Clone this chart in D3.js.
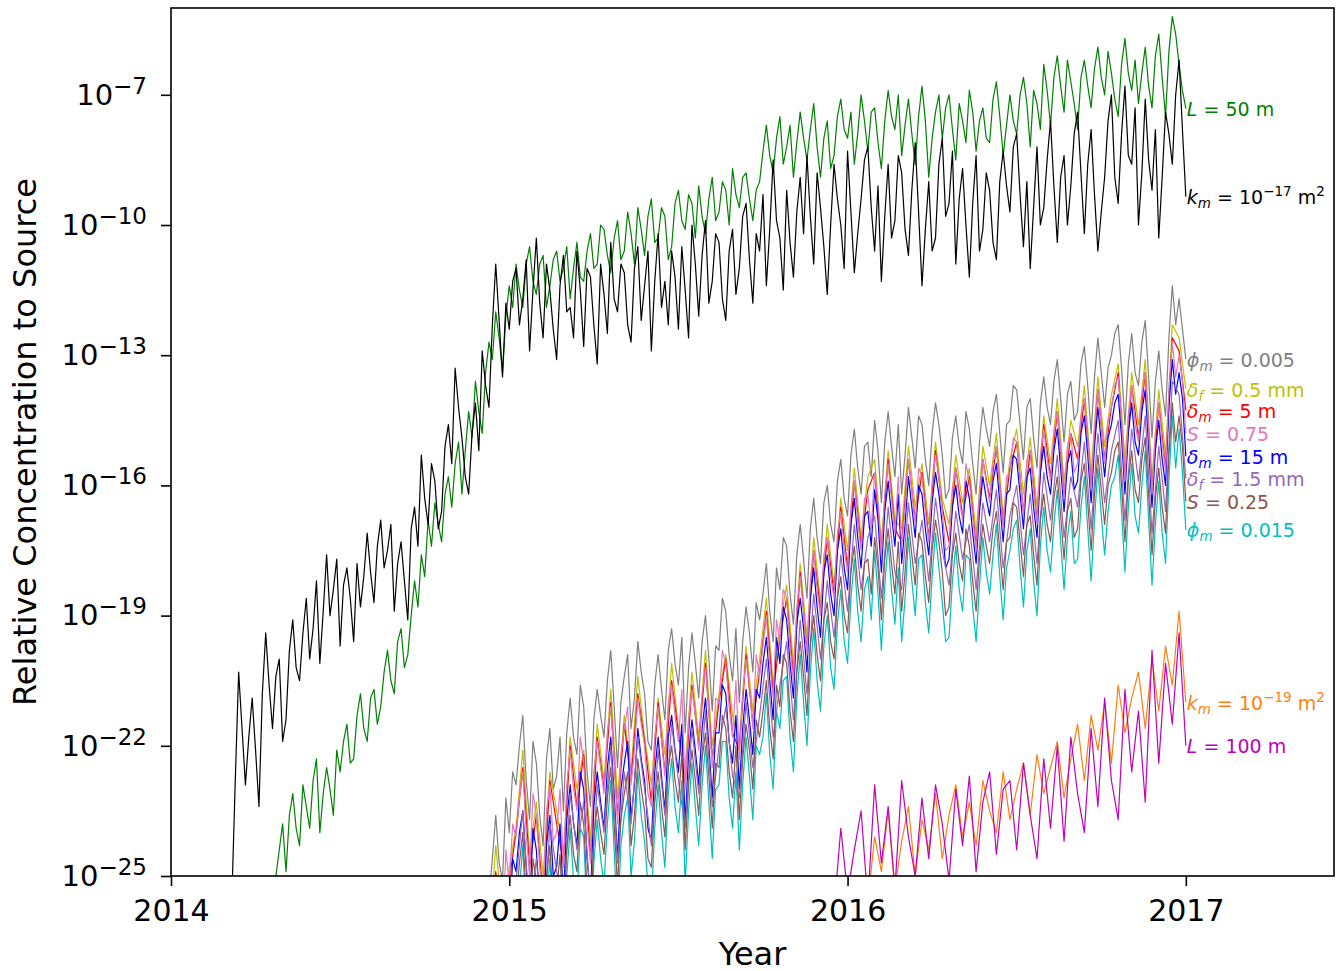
<!DOCTYPE html>
<meta charset="utf-8">
<script src="https://d3js.org/d3.v7.min.js"></script>
<style>
  body { margin: 0; background: #fff; }
  svg text { font-family: "DejaVu Sans", sans-serif; fill: #000; }
</style>
<div id="chart"></div>
<script>
// values are log10 of the relative concentration
var xTickVals = [2014, 2015, 2016, 2017];
var yTickExps = [-25, -22, -19, -16, -13, -10, -7];

// sampled every 0.01 yr
var greenL50Start = 2014.30;
var greenL50 = [-25.8, -25.0, -24.4, -23.8, -24.9, -23.6, -23.1, -23.9, -24.3, -22.9,
  -23.4, -23.9, -22.8, -22.3, -24.0, -23.1, -22.5, -23.0, -23.6, -22.1,
  -22.6, -21.9, -21.5, -22.4, -22.3, -21.3, -20.8, -21.6, -21.9, -20.9,
  -20.7, -21.5, -21.1, -20.3, -19.8, -20.5, -20.8, -19.6, -19.3, -20.2,
  -19.9, -19.0, -18.2, -18.8, -17.6, -18.1, -16.8, -17.4, -16.4, -16.9,
  -17.3, -16.2, -15.8, -16.5, -15.5, -15.0, -16.2, -15.2, -14.3, -14.9,
  -13.6, -14.3, -14.8, -13.4, -12.7, -13.1, -12.0, -12.6, -13.4, -12.1,
  -11.4, -11.9, -10.9, -11.5, -11.9, -10.9, -10.5, -11.3, -11.6, -10.9,
  -10.7, -11.9, -11.4, -10.8, -10.6, -11.3, -11.0, -10.5, -11.7, -11.0,
  -10.4, -11.2, -11.3, -10.6, -10.2, -11.0, -10.9, -10.0, -10.1, -10.7,
  -11.1, -10.3, -9.9, -10.8, -10.6, -9.7, -10.2, -10.9, -9.6, -10.1,
  -10.7, -9.8, -9.4, -10.4, -10.3, -9.6, -9.8, -10.8, -10.5, -9.5,
  -9.2, -9.9, -10.1, -9.3, -9.5, -10.3, -9.1, -9.8, -10.2, -9.4,
  -8.9, -9.9, -9.7, -9.0, -9.2, -10.0, -8.7, -9.3, -9.6, -8.9,
  -8.8, -9.4, -9.9, -9.2, -9.0, -8.3, -7.7, -8.4, -8.8, -8.0,
  -7.5, -8.6, -8.2, -7.7, -8.9, -8.1, -7.4, -8.0, -8.5, -7.8,
  -7.2, -8.2, -8.9, -8.0, -7.6, -8.7, -8.4, -7.5, -7.1, -7.8,
  -8.0, -7.4, -8.6, -7.9, -7.0, -7.6, -8.3, -7.4, -7.3, -8.1,
  -8.7, -7.6, -6.9, -7.5, -7.8, -7.0, -8.4, -7.7, -7.1, -7.9,
  -8.6, -7.5, -6.8, -7.6, -8.9, -8.0, -7.4, -7.0, -8.0, -7.3,
  -7.0, -7.8, -8.5, -7.2, -7.6, -8.1, -6.9, -7.4, -8.3, -7.6,
  -7.3, -8.0, -8.1, -7.1, -6.7, -7.5, -8.4, -7.7, -7.0, -7.6,
  -7.9, -7.0, -6.6, -7.2, -8.2, -6.9, -7.2, -7.8, -6.3, -6.9,
  -7.7, -6.6, -6.1, -6.8, -7.4, -6.2, -6.7, -7.2, -7.8, -6.6,
  -6.2, -6.8, -7.3, -6.4, -5.9, -6.6, -7.0, -6.0, -6.5, -7.1,
  -7.5, -6.3, -5.7, -6.5, -6.9, -6.2, -7.2, -6.5, -5.9, -6.8,
  -7.3, -6.1, -5.6, -6.6, -7.5, -6.0, -5.2, -5.6, -6.3, -6.9,
  -7.32];

var blackKm17Start = 2014.18;
var blackKm17 = [-25.5, -22.8, -20.3, -21.6, -22.9, -21.8, -20.9, -22.1, -23.4, -20.8,
  -19.4, -20.6, -21.6, -20.4, -20.0, -21.9, -21.4, -19.8, -19.1, -20.2,
  -20.5, -19.4, -18.6, -20.0, -19.3, -18.2, -20.1, -18.9, -17.6, -19.0,
  -18.4, -17.7, -19.7, -18.3, -17.9, -18.6, -19.6, -17.8, -18.8, -18.1,
  -17.1, -18.0, -18.7, -17.4, -16.8, -17.9, -17.5, -16.9, -18.9, -17.8,
  -17.3, -18.2, -19.1, -17.0, -16.5, -17.4, -15.3, -16.3, -16.9, -15.5,
  -15.9, -17.0, -16.6, -15.1, -14.6, -15.5, -13.3, -14.2, -14.9, -15.8,
  -16.2, -14.8, -14.1, -15.2, -12.9, -13.7, -14.2, -12.3, -10.9, -12.2,
  -13.5, -11.8, -12.4, -11.3, -11.0, -12.3, -11.7, -10.8, -12.9, -11.5,
  -10.3, -11.8, -12.6, -10.9, -11.5, -12.4, -13.1, -11.4, -10.7, -12.0,
  -11.9, -12.6, -10.6, -11.5, -12.8, -11.0, -11.2, -12.3, -13.2, -10.9,
  -11.6, -12.5, -10.4, -11.7, -12.0, -10.9, -11.1, -12.3, -12.7, -11.0,
  -10.5, -12.2, -11.4, -10.6, -12.9, -11.3, -10.2, -11.9, -11.3, -12.3,
  -10.6, -11.2, -12.4, -10.5, -11.5, -12.6, -10.0, -10.9, -12.1, -10.7,
  -9.9, -11.8, -11.3, -10.2, -10.4, -11.7, -12.2, -10.6, -10.1, -11.6,
  -11.0, -9.8, -9.5, -10.8, -11.8, -10.2, -10.6, -9.3, -11.4, -10.1,
  -8.5, -9.9, -10.3, -11.5, -9.2, -10.4, -11.2, -9.7, -8.9, -10.2,
  -8.4, -9.8, -10.9, -8.8, -9.6, -10.5, -11.6, -10.0, -8.6, -9.4,
  -10.0, -11.0, -8.3, -9.7, -11.1, -10.2, -9.4, -8.5, -8.2, -9.6,
  -10.6, -9.1, -11.3, -9.8, -8.6, -10.3, -9.9, -8.4, -8.8, -10.1,
  -10.7, -9.2, -8.1, -9.7, -11.4, -10.1, -9.0, -10.6, -10.3, -8.6,
  -8.0, -9.8, -9.5, -8.3, -10.9, -9.4, -8.7, -10.0, -11.2, -9.5,
  -8.4, -10.6, -10.1, -8.8, -9.2, -10.4, -10.8, -9.0, -8.3, -9.1,
  -9.7, -8.2, -7.9, -9.3, -10.5, -9.0, -11.0, -9.6, -8.2, -10.0,
  -9.6, -8.5, -7.6, -9.1, -10.4, -8.9, -8.4, -10.0, -9.1, -7.9,
  -7.4, -8.8, -10.2, -8.6, -7.8, -9.3, -10.6, -9.7, -8.9, -7.6,
  -7.0, -8.9, -9.5, -7.9, -6.8, -8.4, -8.6, -7.3, -10.0, -8.8,
  -7.1, -8.5, -9.2, -7.8, -10.3, -8.9, -7.4, -7.9, -8.6, -7.0,
  -6.2, -7.8, -9.35];

var midStart = 2014.94;
// sampled every 0.01 yr
var grayPhi005 = [-25.5, -24.6, -23.6, -24.7, -25.1, -23.2, -24.0, -22.6, -22.9, -22.0,
  -21.3, -22.8, -23.7, -21.9, -22.4, -23.6, -24.3, -22.3, -21.6, -23.0,
  -22.7, -21.8, -23.5, -21.7, -20.9, -21.8, -22.2, -20.6, -21.1, -22.6,
  -23.4, -21.4, -20.7, -21.3, -21.8, -20.5, -19.8, -21.1, -22.5, -21.0,
  -20.4, -19.9, -21.6, -20.9, -19.6, -20.3, -20.8, -21.9, -22.1, -20.6,
  -19.9, -20.7, -21.4, -19.8, -19.3, -20.1, -20.6, -19.5, -21.7, -20.2,
  -19.4, -20.1, -20.9, -19.6, -19.0, -20.0, -21.2, -19.7, -19.8, -18.6,
  -18.9, -19.9, -20.5, -19.3, -21.0, -19.6, -18.8, -19.4, -20.3, -18.7,
  -19.1, -18.5, -17.8, -18.9, -19.6, -17.9, -18.4, -17.2, -17.4, -18.5,
  -19.2, -17.6, -16.9, -17.7, -18.6, -17.0, -16.3, -17.2, -17.8, -16.4,
  -16.0, -16.9, -17.3, -15.9, -15.4, -16.3, -16.7, -15.3, -14.7, -15.6,
  -16.2, -15.1, -15.0, -15.8, -14.5, -15.2, -16.4, -15.0, -14.3, -15.1,
  -15.8, -14.6, -16.2, -15.3, -14.2, -14.9, -15.6, -14.4, -14.6, -15.4,
  -16.0, -14.8, -14.1, -14.6, -15.3, -16.3, -16.1, -14.9, -14.4, -15.1,
  -15.5, -14.3, -14.7, -15.5, -16.2, -15.0, -14.2, -14.7, -15.1, -14.3,
  -13.9, -14.8, -15.7, -14.6, -14.5, -13.7, -13.8, -14.6, -15.4, -14.2,
  -14.0, -14.9, -15.6, -14.1, -13.5, -14.2, -14.6, -13.6, -13.1, -14.0,
  -15.0, -13.9, -13.6, -14.5, -14.3, -13.2, -12.8, -13.7, -14.8, -13.5,
  -12.6, -13.4, -14.2, -13.3, -13.0, -12.5, -12.3, -13.3, -14.6, -13.2,
  -12.5, -13.4, -13.7, -12.7, -12.2, -13.5, -14.9, -13.6, -12.9, -13.8,
  -14.4, -12.6, -11.4, -12.3, -11.7, -12.4, -13.09];
var pinkS075 = [-26.8, -25.8, -25.0, -25.9, -26.4, -24.4, -25.2, -23.8, -24.1, -23.2,
  -22.6, -24.0, -25.0, -23.1, -23.6, -24.8, -25.6, -23.5, -22.9, -24.2,
  -24.0, -23.0, -24.8, -22.9, -22.1, -23.0, -23.5, -21.8, -22.4, -23.8,
  -24.7, -22.6, -21.9, -22.5, -23.1, -21.7, -21.1, -22.3, -23.8, -22.2,
  -21.6, -21.1, -22.9, -22.1, -20.9, -21.5, -22.0, -23.1, -23.4, -21.8,
  -21.1, -21.9, -22.7, -21.0, -20.6, -21.3, -21.9, -20.7, -23.0, -21.4,
  -20.7, -21.3, -22.1, -20.8, -20.2, -21.2, -22.5, -20.9, -21.0, -19.8,
  -20.1, -21.1, -21.8, -20.5, -22.3, -20.8, -20.0, -20.6, -21.6, -19.9,
  -20.4, -19.7, -19.0, -20.1, -20.9, -19.1, -19.6, -18.4, -18.6, -19.7,
  -20.5, -18.8, -18.1, -18.9, -19.9, -18.2, -17.5, -18.4, -19.0, -17.6,
  -17.2, -18.1, -18.6, -17.1, -16.6, -17.5, -18.0, -16.5, -15.9, -16.8,
  -17.5, -16.3, -16.2, -17.0, -15.7, -16.4, -17.6, -16.2, -15.5, -16.3,
  -17.1, -15.8, -17.4, -16.5, -15.4, -16.1, -16.9, -15.6, -15.8, -16.6,
  -17.3, -16.0, -15.3, -15.8, -16.6, -17.5, -17.4, -16.1, -15.6, -16.3,
  -16.8, -15.5, -15.9, -16.7, -17.5, -16.2, -15.4, -15.9, -16.4, -15.5,
  -15.1, -16.0, -17.0, -15.8, -15.7, -14.9, -15.0, -15.8, -16.7, -15.4,
  -15.2, -16.1, -16.9, -15.3, -14.7, -15.4, -15.9, -14.8, -14.3, -15.2,
  -16.3, -15.1, -14.8, -15.7, -15.5, -14.4, -14.0, -14.9, -16.1, -14.7,
  -13.8, -14.6, -15.5, -14.5, -14.2, -13.7, -13.5, -14.5, -15.9, -14.4,
  -13.7, -14.6, -15.0, -13.9, -13.4, -14.7, -16.2, -14.8, -14.1, -15.0,
  -15.7, -13.8, -12.7, -13.5, -13.0, -13.6, -14.8];
var blueDm15 = [-27.5, -26.6, -25.8, -26.7, -27.1, -25.2, -26.2, -24.6, -24.9, -24.0,
  -23.5, -24.8, -25.8, -23.9, -24.4, -25.6, -26.4, -24.3, -23.6, -25.0,
  -24.8, -23.8, -25.6, -23.7, -22.9, -23.8, -24.3, -22.6, -23.0, -24.6,
  -25.5, -23.4, -22.6, -23.3, -23.9, -22.5, -21.8, -23.1, -24.6, -23.0,
  -22.4, -21.9, -23.7, -22.9, -21.6, -22.3, -22.8, -23.9, -24.2, -22.6,
  -21.8, -22.7, -23.5, -21.8, -21.3, -22.1, -22.6, -21.5, -23.8, -22.2,
  -21.4, -22.1, -22.9, -21.6, -20.9, -22.0, -23.2, -21.7, -21.7, -20.6,
  -20.8, -21.9, -22.4, -21.3, -23.0, -21.6, -20.7, -21.4, -22.2, -20.7,
  -20.9, -20.1, -19.5, -20.5, -21.4, -19.5, -20.1, -18.8, -19.1, -20.1,
  -20.9, -19.2, -18.6, -19.3, -20.3, -18.6, -17.9, -18.8, -19.5, -18.0,
  -17.6, -18.5, -19.0, -17.5, -17.0, -17.9, -18.4, -16.9, -16.3, -17.2,
  -17.9, -16.7, -16.6, -17.4, -16.1, -16.8, -18.0, -16.6, -15.9, -16.7,
  -17.4, -16.2, -17.8, -16.9, -15.8, -16.5, -17.2, -16.0, -16.2, -17.0,
  -17.6, -16.4, -15.7, -16.2, -16.9, -17.9, -17.7, -16.5, -16.0, -16.7,
  -17.1, -15.9, -16.3, -17.1, -17.8, -16.6, -15.8, -16.3, -16.7, -15.9,
  -15.5, -16.4, -17.3, -16.2, -16.1, -15.3, -15.4, -16.2, -17.0, -15.8,
  -15.6, -16.5, -17.2, -15.7, -15.1, -15.8, -16.2, -15.2, -14.7, -15.6,
  -16.6, -15.5, -15.2, -16.1, -15.9, -14.8, -14.4, -15.3, -16.4, -15.1,
  -14.2, -15.0, -15.8, -14.9, -14.6, -14.1, -13.9, -14.9, -16.2, -14.8,
  -14.1, -15.0, -15.3, -14.3, -13.8, -15.1, -16.5, -15.2, -14.5, -15.4,
  -16.0, -14.2, -13.1, -13.9, -13.4, -14.0, -15.33];
var brownS025 = [-28.2, -27.3, -26.3, -27.4, -27.8, -25.9, -26.7, -25.3, -25.6, -24.7,
  -24.0, -25.5, -26.4, -24.6, -25.1, -26.3, -27.0, -25.0, -24.3, -25.7,
  -25.4, -24.5, -26.2, -24.4, -23.6, -24.5, -24.9, -23.3, -23.8, -25.3,
  -26.1, -24.1, -23.4, -24.0, -24.5, -23.2, -22.5, -23.8, -25.2, -23.7,
  -23.1, -22.6, -24.3, -23.6, -22.3, -23.0, -23.5, -24.6, -24.8, -23.3,
  -22.6, -23.4, -24.1, -22.5, -22.0, -22.8, -23.3, -22.2, -24.4, -22.9,
  -22.1, -22.8, -23.6, -22.3, -21.7, -22.7, -23.9, -22.4, -22.5, -21.3,
  -21.6, -22.6, -23.2, -22.0, -23.7, -22.3, -21.5, -22.1, -23.0, -21.4,
  -21.8, -21.2, -20.5, -21.6, -22.3, -20.6, -21.1, -19.9, -20.1, -21.2,
  -21.9, -20.3, -19.6, -20.4, -21.3, -19.7, -19.0, -19.9, -20.5, -19.1,
  -18.7, -19.6, -20.0, -18.6, -18.1, -19.0, -19.4, -18.0, -17.4, -18.3,
  -18.9, -17.8, -17.7, -18.5, -17.2, -17.9, -19.1, -17.7, -17.0, -17.8,
  -18.5, -17.3, -18.9, -18.0, -16.9, -17.6, -18.3, -17.1, -17.3, -18.1,
  -18.7, -17.5, -16.8, -17.3, -18.0, -19.0, -18.8, -17.6, -17.1, -17.8,
  -18.2, -17.0, -17.4, -18.2, -18.9, -17.7, -16.9, -17.4, -17.8, -17.0,
  -16.6, -17.5, -18.4, -17.3, -17.2, -16.4, -16.5, -17.3, -18.1, -16.9,
  -16.7, -17.6, -18.3, -16.8, -16.2, -16.9, -17.3, -16.3, -15.8, -16.7,
  -17.7, -16.6, -16.3, -17.2, -17.0, -15.9, -15.5, -16.4, -17.5, -16.2,
  -15.3, -16.1, -16.9, -16.0, -15.7, -15.2, -15.0, -16.0, -17.3, -15.9,
  -15.2, -16.1, -16.4, -15.4, -14.9, -16.2, -17.6, -16.3, -15.6, -16.5,
  -17.1, -15.3, -14.1, -15.0, -14.4, -15.1, -16.37];
var cyanPhi015 = [-29.0, -27.9, -26.6, -28.0, -28.6, -26.5, -27.3, -25.9, -25.9, -25.3,
  -24.3, -26.1, -27.2, -25.2, -25.5, -26.9, -27.8, -25.6, -24.6, -26.3,
  -25.9, -25.1, -27.0, -25.0, -23.9, -25.1, -25.6, -23.9, -24.1, -25.9,
  -26.9, -24.7, -23.7, -24.6, -25.2, -23.8, -22.8, -24.4, -26.0, -24.3,
  -23.6, -23.2, -25.0, -24.2, -22.6, -23.6, -24.2, -25.2, -25.6, -23.9,
  -22.9, -24.0, -24.8, -23.1, -22.3, -23.4, -24.0, -22.8, -25.2, -23.5,
  -22.4, -23.4, -24.3, -22.9, -22.0, -23.3, -24.6, -23.0, -22.9, -21.9,
  -21.9, -23.2, -23.9, -22.6, -24.4, -22.9, -21.8, -22.7, -23.7, -22.0,
  -22.2, -21.8, -20.8, -22.2, -23.0, -21.2, -21.6, -20.5, -20.4, -21.8,
  -22.6, -20.9, -19.9, -21.0, -22.0, -20.3, -19.3, -20.5, -21.2, -19.7,
  -19.0, -20.2, -20.7, -19.2, -18.4, -19.6, -20.1, -18.6, -17.7, -18.9,
  -19.6, -18.4, -18.1, -19.1, -17.5, -18.5, -19.8, -18.3, -17.3, -18.4,
  -19.2, -17.9, -19.6, -18.6, -17.2, -18.2, -19.0, -17.7, -17.6, -18.7,
  -19.4, -18.1, -17.1, -17.9, -18.7, -19.6, -19.5, -18.2, -17.4, -18.4,
  -18.9, -17.6, -17.7, -18.8, -19.6, -18.3, -17.2, -18.0, -18.5, -17.6,
  -16.9, -18.1, -19.1, -17.9, -17.5, -17.0, -16.8, -17.9, -18.8, -17.5,
  -17.0, -18.2, -19.0, -17.4, -16.5, -17.5, -18.0, -16.9, -16.1, -17.3,
  -18.4, -17.2, -16.6, -17.8, -17.7, -16.5, -15.8, -17.0, -18.2, -16.8,
  -15.6, -16.7, -17.6, -16.6, -16.0, -15.8, -15.3, -16.6, -18.0, -16.5,
  -15.5, -16.7, -17.1, -16.0, -15.2, -16.8, -18.3, -16.9, -15.9, -17.1,
  -17.8, -15.9, -14.4, -15.6, -14.7, -15.7, -17.02];

// sampled every 0.02 yr
var yellowDf05 = [-26.5, -24.3, -25.9, -24.8, -23.9, -22.1, -24.5, -23.3, -25.0, -22.6,
  -23.5, -24.5, -21.8, -23.0, -22.1, -24.2, -21.5, -22.8, -20.7, -23.2,
  -21.3, -22.6, -20.4, -21.8, -22.9, -20.9, -22.2, -20.1, -21.6, -22.5,
  -20.3, -21.8, -19.8, -22.0, -20.8, -19.9, -21.3, -21.9, -19.7, -21.2,
  -20.0, -18.6, -20.6, -19.2, -18.3, -20.1, -17.8, -19.5, -17.2, -18.7,
  -16.9, -18.3, -16.3, -17.5, -15.6, -17.2, -15.8, -15.4, -17.3, -15.2,
  -16.8, -17.0, -15.1, -16.5, -15.5, -16.9, -15.0, -16.3, -16.9, -15.3,
  -16.4, -15.6, -17.1, -15.1, -16.0, -14.8, -16.7, -15.4, -14.7, -16.2,
  -14.9, -16.5, -14.4, -15.5, -14.0, -15.9, -14.5, -15.1, -13.7, -15.7,
  -13.5, -15.1, -13.9, -13.2, -15.4, -13.4, -14.6, -13.1, -15.8, -13.8,
  -15.3, -12.3, -12.6, -13.78];
var redDm5 = [-26.7, -24.9, -26.2, -25.1, -24.0, -22.5, -24.8, -23.6, -25.5, -22.8,
  -23.8, -24.7, -22.0, -23.4, -22.2, -24.6, -21.8, -23.0, -21.0, -23.6,
  -21.5, -22.8, -20.8, -21.9, -23.3, -21.0, -22.6, -20.5, -21.7, -22.9,
  -20.6, -22.0, -20.1, -22.3, -21.0, -20.0, -21.7, -22.1, -19.9, -21.5,
  -20.3, -18.9, -20.8, -19.5, -18.6, -20.4, -18.0, -19.8, -17.5, -18.9,
  -17.2, -18.5, -16.5, -17.9, -15.9, -17.4, -16.1, -15.7, -17.5, -15.4,
  -17.0, -17.3, -15.4, -16.8, -15.7, -17.2, -15.2, -16.5, -17.3, -15.6,
  -16.7, -15.8, -17.4, -15.4, -16.3, -15.1, -16.9, -15.6, -15.0, -16.6,
  -15.2, -16.8, -14.6, -15.8, -14.3, -16.2, -14.8, -15.4, -14.0, -16.0,
  -13.8, -15.4, -14.2, -13.4, -15.8, -13.7, -14.9, -13.4, -16.1, -14.1,
  -15.6, -12.6, -12.9, -14.27];
var purpleDf15 = [-27.7, -25.9, -27.3, -26.2, -25.1, -23.5, -25.9, -24.6, -26.5, -23.8,
  -24.9, -25.7, -23.1, -24.4, -23.3, -25.6, -22.9, -24.0, -22.0, -24.7,
  -22.6, -23.8, -21.8, -23.0, -24.3, -22.1, -23.6, -21.5, -22.8, -23.9,
  -21.6, -23.1, -21.2, -23.4, -22.0, -21.1, -22.7, -23.2, -21.0, -22.5,
  -21.3, -20.0, -21.8, -20.6, -19.6, -21.4, -19.1, -20.8, -18.5, -20.0,
  -18.2, -19.5, -17.6, -18.9, -16.9, -18.4, -17.2, -16.7, -18.6, -16.5,
  -18.0, -18.4, -16.4, -17.8, -16.8, -18.2, -16.3, -17.5, -18.3, -16.6,
  -17.7, -16.9, -18.4, -16.4, -17.3, -16.1, -17.9, -16.7, -16.0, -17.6,
  -16.2, -17.8, -15.7, -16.8, -15.3, -17.2, -15.8, -16.5, -15.0, -17.0,
  -14.8, -16.4, -15.2, -14.5, -16.8, -14.7, -15.9, -14.4, -17.1, -15.1,
  -16.6, -13.6, -13.9, -15.84];

var orangeKm19Start = 2016.06;
var orangeKm19 = [-25.6, -24.1, -24.9, -23.5, -25.3, -24.2, -23.4, -25.0, -23.7, -24.4,
  -23.1, -24.6, -23.6, -22.9, -24.1, -23.3, -24.3, -22.8, -23.5, -24.0,
  -22.6, -23.7, -23.0, -22.4, -23.6, -22.2, -23.1, -22.5, -21.9, -23.2,
  -22.3, -21.5, -22.8, -21.3, -22.1, -21.0, -22.4, -20.6, -21.7, -20.9,
  -20.3, -21.6, -20.0, -21.2, -19.7, -20.6, -18.9, -21.0];

var magentaL100Start = 2015.96;
var magentaL100 = [-25.8, -23.9, -25.4, -24.4, -23.5, -25.6, -22.9, -24.7, -23.4, -25.3,
  -22.8, -24.1, -25.0, -23.2, -24.6, -22.9, -23.8, -25.1, -23.0, -24.3,
  -22.7, -24.9, -23.3, -22.6, -24.5, -23.0, -22.8, -24.4, -22.4, -23.6,
  -24.6, -22.3, -23.9, -22.0, -24.2, -21.8, -23.1, -24.0, -21.6, -23.4,
  -20.9, -22.8, -23.7, -20.7, -22.6, -21.2, -23.3, -19.8, -22.4, -20.1,
  -21.5, -19.4, -22.0];

// drawing order = list order; label is drawn at the last sample
var series = [
  { vals: greenL50, start: greenL50Start, step: 0.01, color: "#008000",
    label: [["L", "i"], [" = 50 m", ""]] },
  { vals: blackKm17, start: blackKm17Start, step: 0.01, color: "#000000",
    label: [["k", "i"], ["m", "sub"], [" = 10", ""], ["\u221217", "sup"], [" m", ""], ["2", "sup"]] },
  { vals: grayPhi005, start: midStart, step: 0.01, color: "#808080",
    label: [["\u03d5", "i"], ["m", "sub"], [" = 0.005", ""]] },
  { vals: cyanPhi015, start: midStart, step: 0.01, color: "#00bfbf",
    label: [["\u03d5", "i"], ["m", "sub"], [" = 0.015", ""]] },
  { vals: yellowDf05, start: midStart, step: 0.02, color: "#bfbf00",
    label: [["\u03b4", "i"], ["f", "sub"], [" = 0.5 mm", ""]] },
  { vals: redDm5, start: midStart, step: 0.02, color: "#ff0000",
    label: [["\u03b4", "i"], ["m", "sub"], [" = 5 m", ""]] },
  { vals: blueDm15, start: midStart, step: 0.01, color: "#0000ff",
    label: [["\u03b4", "i"], ["m", "sub"], [" = 15 m", ""]] },
  { vals: purpleDf15, start: midStart, step: 0.02, color: "#9467bd",
    label: [["\u03b4", "i"], ["f", "sub"], [" = 1.5 mm", ""]] },
  { vals: brownS025, start: midStart, step: 0.01, color: "#8c564b",
    label: [["S", "i"], [" = 0.25", ""]] },
  { vals: pinkS075, start: midStart, step: 0.01, color: "#e377c2",
    label: [["S", "i"], [" = 0.75", ""]] },
  { vals: orangeKm19, start: orangeKm19Start, step: 0.02, color: "#ff7f0e",
    label: [["k", "i"], ["m", "sub"], [" = 10", ""], ["\u221219", "sup"], [" m", ""], ["2", "sup"]] },
  { vals: magentaL100, start: magentaL100Start, step: 0.02, color: "#bf00bf",
    label: [["L", "i"], [" = 100 m", ""]] }
];

var margin = { top: 8, right: 6, bottom: 95, left: 171 },
    width = 1163,
    height = 868;

var svg = d3.select("#chart").append("svg")
    .attr("width", 1340)
    .attr("height", 971);

var g = svg.append("g")
    .attr("transform", "translate(" + margin.left + "," + margin.top + ")");

var x = d3.scaleLinear().domain([2014, 2017.438]).range([0, width]);
var y = d3.scaleLog().domain([1e-25, 1e-5]).range([height, 0]);

g.append("clipPath").attr("id", "plotclip")
  .append("rect").attr("width", width).attr("height", height);

var line = d3.line()
    .x(function (d) { return x(d.t); })
    .y(function (d) { return y(d.v); });

var plot = g.append("g").attr("clip-path", "url(#plotclip)");

series.forEach(function (s) {
  s.pts = s.vals.map(function (e, i) {
    return { t: s.start + i * s.step, v: Math.pow(10, e) };
  });
  plot.append("path")
    .datum(s.pts)
    .attr("fill", "none")
    .attr("stroke", s.color)
    .attr("stroke-width", 1.2)
    .attr("stroke-linejoin", "round")
    .attr("d", line);
});

// labels at the end of each curve
series.forEach(function (s) {
  var last = s.pts[s.pts.length - 1];
  var txt = g.append("text")
    .attr("x", x(last.t) + 1)
    .attr("y", y(last.v) + 7.5)
    .style("font-size", "19px")
    .style("fill", s.color);
  var shift = 0;
  s.label.forEach(function (p) {
    var target = p[1] === "sub" ? 4 : (p[1] === "sup" ? -8 : 0);
    var ts = txt.append("tspan").text(p[0]);
    if (target !== shift) ts.attr("dy", target - shift);
    if (p[1] === "i" || p[1] === "sub") ts.style("font-style", "italic");
    if (p[1] === "sub" || p[1] === "sup") ts.style("font-size", "13.5px");
    shift = target;
  });
});

// axes
var xAxis = g.append("g")
    .attr("transform", "translate(0," + height + ")")
    .call(d3.axisBottom(x).tickValues(xTickVals).tickFormat(d3.format("d"))
      .tickSize(10).tickPadding(14));
xAxis.selectAll("text").style("font-size", "30px");

var yAxis = g.append("g")
    .call(d3.axisLeft(y).tickValues(yTickExps.map(function (e) { return Math.pow(10, e); }))
      .tickSize(10).tickPadding(14).tickFormat(""));
yAxis.selectAll(".tick text").each(function (d) {
  var t = d3.select(this).style("font-size", "29px");
  var e = Math.round(Math.log10(d));
  t.append("tspan").text("10");
  t.append("tspan").attr("dy", -11).style("font-size", "23px").text("\u2212" + Math.abs(e));
});

g.selectAll(".domain").remove();
g.selectAll(".tick line").attr("stroke-width", 1.6);

g.append("rect")
  .attr("width", width).attr("height", height)
  .attr("fill", "none").attr("stroke", "#000").attr("stroke-width", 1.6);

svg.append("text")
  .attr("x", margin.left + width / 2)
  .attr("y", 965)
  .attr("text-anchor", "middle")
  .style("font-size", "32px")
  .text("Year");

svg.append("text")
  .attr("transform", "translate(36," + (margin.top + height / 2) + ") rotate(-90)")
  .attr("text-anchor", "middle")
  .style("font-size", "32px")
  .text("Relative Concentration to Source");
</script>
